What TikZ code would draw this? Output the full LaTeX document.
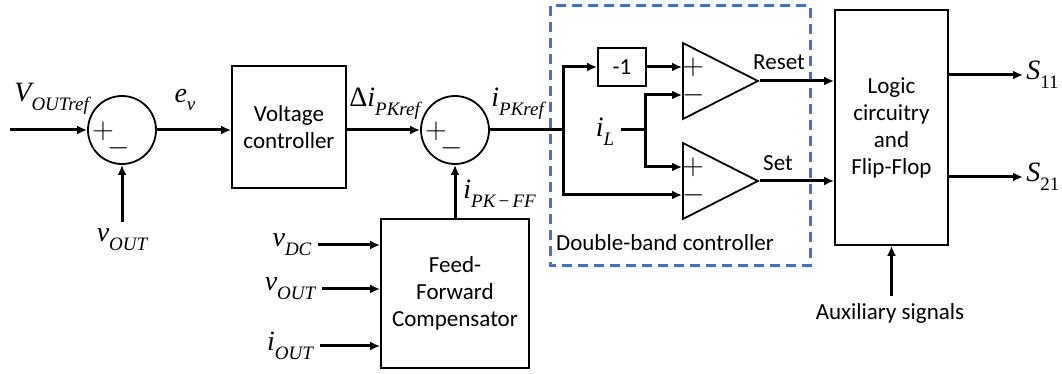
\documentclass[tikz,border=0pt]{standalone}
\usepackage[no-math]{fontspec}
\setmainfont{Carlito}
\newfontfamily\tmsfont{Liberation Serif}
\usepackage{amsmath,amssymb}
\usetikzlibrary{arrows.meta,shapes.geometric}
\definecolor{dbblue}{RGB}{68,114,196}
\newcommand{\vsub}[2]{{\tmsfont\itshape #1\raisebox{-0.32em}{\fontsize{9.5}{10}\selectfont #2}}}

\begin{document}
\begin{tikzpicture}[x=0.5pt, y=-0.5pt, every node/.style={font=\fontsize{11.5}{13.5}\selectfont}, >={Latex[length=5pt,width=4.5pt]},
	blk/.style={draw, line width=0.9pt, align=center, inner sep=0pt},
	sumj/.style={circle, draw, line width=0.9pt, minimum size=34pt, inner sep=0pt},
	amp/.style={isosceles triangle, isosceles triangle stretches, draw, line width=0.9pt, minimum width=38pt, minimum height=37.5pt, inner sep=0pt, anchor=west},
	sig/.style={->, line width=1.5pt},
	lbl/.style={font=\fontsize{14}{16}\selectfont},
	sgn/.style={font=\fontsize{14}{14}\selectfont, inner sep=0pt}]
	\useasboundingbox (0,0) rectangle (1062,374);
	% blocks
	\node[sumj] (sum1) at (122,130) {};
	\node[blk, minimum width=57pt, minimum height=61pt] (vc) at (289,127) {Voltage\\controller};
	\node[sumj] (sum2) at (455,130) {};
	\node[blk, minimum width=74pt, minimum height=74.5pt] (ff) at (455,293.5) {Feed-\\Forward\\Compensator};
	\node[blk, minimum width=24pt, minimum height=19pt] (neg) at (622,67) {-1};
	\node[amp] (amp1) at (682,81) {};
	\node[amp] (amp2) at (682,181) {};
	\node[blk, minimum width=56.5pt, minimum height=117.5pt] (logic) at (891.5,127.5) {Logic\\circuitry\\and\\Flip-Flop};
	\draw[dbblue, line width=1.5pt, dash pattern=on 5pt off 3pt] (550,6) rectangle (810,266);
	\node at (665,243) {Double-band controller};
	% signs
	\node[sgn] at ([shift={(-19,1)}]sum1.center) {$+$};
	\node[sgn] at ([shift={(-3,18)}]sum1.center) {$-$};
	\node[sgn] at ([shift={(-19,1)}]sum2.center) {$+$};
	\node[sgn] at ([shift={(-3,18)}]sum2.center) {$-$};
	\coordinate (a1p) at ([yshift=7pt]amp1.west);
	\coordinate (a1m) at ([yshift=-7pt]amp1.west);
	\coordinate (a2p) at ([yshift=7pt]amp2.west);
	\coordinate (a2m) at ([yshift=-7pt]amp2.west);
	\node[sgn] at ([xshift=5.5pt]a1p) {$+$};
	\node[sgn] at ([xshift=6pt]a1m) {$-$};
	\node[sgn] at ([xshift=5.5pt]a2p) {$+$};
	\node[sgn] at ([xshift=6pt]a2m) {$-$};
	% voltage loop
	\coordinate (vref) at (10,130);
	\draw[sig] (vref) -- (sum1);
	\node[lbl, anchor=west, inner sep=0pt] (vreflbl) at (14,99) {\vsub{V}{OUTref}};
	\node[lbl] (vout1) at (122,240) {\vsub{v}{OUT}};
	\draw[sig] (vout1) -- (sum1);
	\draw[sig] (sum1) -- (sum1 -| vc.west);
	\node[lbl] (ev) at (185,100) {\vsub{e}{v}};
	\draw[sig] (vc.east |- sum2) -- (sum2);
	\node[lbl, anchor=west, inner sep=0pt] (dipk) at (349,104) {{\tmsfont Δ}\vsub{i}{PKref}};
	% feed-forward
	\node[lbl] (vdc) at (292,245) {\vsub{v}{DC}};
	\node[lbl] (vout2) at (290,289) {\vsub{v}{OUT}};
	\node[lbl] (iout) at (290,346) {\vsub{i}{OUT}};
	\draw[sig] (vdc.east) -- (vdc.east -| ff.west);
	\draw[sig] (vout2.east) -- (vout2.east -| ff.west);
	\draw[sig] (iout.east) -- (iout.east -| ff.west);
	\draw[sig] (ff) -- (sum2);
	\node[lbl, anchor=west, inner sep=0pt] (ipkff) at (463,194) {\vsub{i}{PK\,\upshape −\,\itshape FF}};
	% double-band controller
	\coordinate (br) at (563,130);
	\draw[line width=1.5pt] (sum2) -- (br);
	\node[lbl, anchor=west, inner sep=0pt] (ipk) at (491,104) {\vsub{i}{PKref}};
	\draw[sig] (br) |- (neg);
	\draw[sig] (br) |- (a2m);
	\draw[sig] (neg) -- (a1p);
	\node[lbl] (il) at (605,132) {\vsub{i}{L}};
	\coordinate (ilj) at (645,130);
	\draw[line width=1.5pt] (il.east |- ilj) -- (ilj);
	\draw[sig] (ilj) |- (a1m);
	\draw[sig] (ilj) |- (a2p);
	\draw[sig] (amp1.east) -- (amp1.east -| logic.west);
	\draw[sig] (amp2.east) -- (amp2.east -| logic.west);
	\node (reset) at (779,62) {Reset};
	\node (set) at (778,163) {Set};
	% outputs
	\coordinate (o11) at (1023,75);
	\coordinate (o21) at (1023,177);
	\draw[sig] (logic.east |- o11) -- (o11);
	\draw[sig] (logic.east |- o21) -- (o21);
	\node[lbl, right, inner sep=1.5pt] (s11) at (o11) {\vsub{S}{\upshape 11}};
	\node[lbl, right, inner sep=1.5pt] (s21) at (o21) {\vsub{S}{\upshape 21}};
	\node (aux) at (890,313) {Auxiliary signals};
	\draw[sig] (aux.north -| logic.south) -- (logic.south);
\end{tikzpicture}
\end{document}
